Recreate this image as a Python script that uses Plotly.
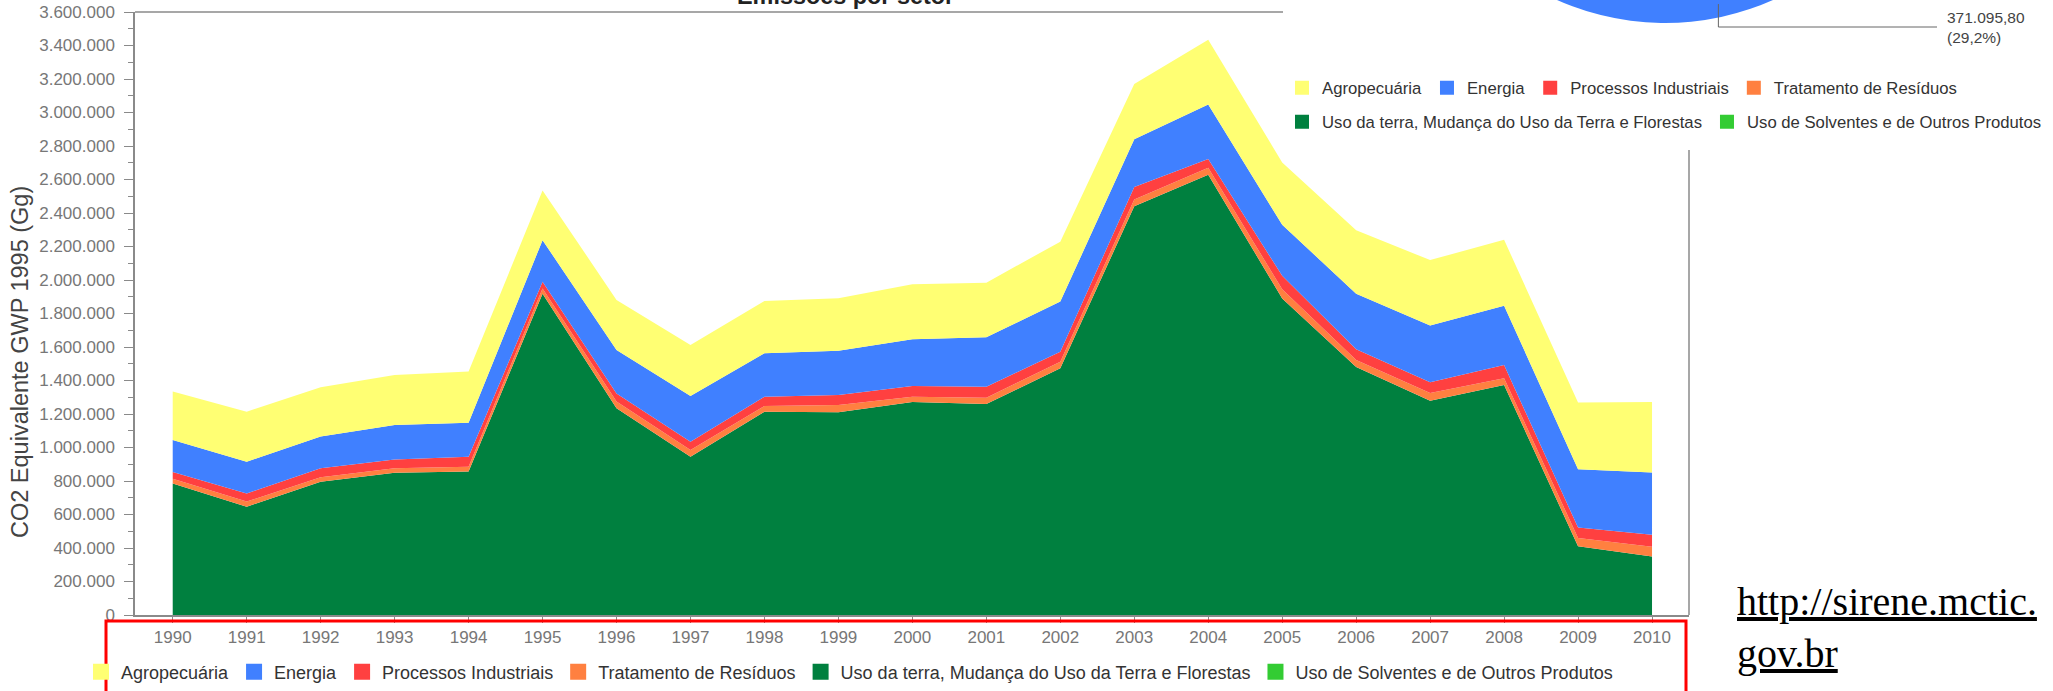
import math
import plotly.graph_objects as go

# Emissões por setor, Gg CO2 equivalente (GWP 1995)
years = list(range(1990, 2011))
uso_terra = [785000, 647000, 796000, 850000, 856000, 1918000, 1234000, 945000, 1214000, 1210000, 1271000,
             1260000, 1473000, 2440000, 2628000, 1890000, 1480000, 1279000, 1373000, 410000, 350000]
residuos = [28000, 30000, 26000, 26000, 29000, 32000, 40000, 40000, 34000, 44000, 32000,
            37000, 39000, 40000, 42000, 55000, 43000, 47000, 41000, 50000, 57000]
industriais = [40000, 49000, 54000, 53000, 60000, 40000, 49000, 50000, 55000, 59000, 64000,
               66000, 60000, 75000, 52000, 80000, 64000, 64000, 78000, 62000, 72000]
energia = [192000, 189000, 189000, 205000, 203000, 248000, 259000, 272000, 259000, 265000, 279000,
           295000, 299000, 285000, 326000, 305000, 331000, 339000, 355000, 348000, 371095.80]
agropecuaria = [290000, 299000, 294000, 299000, 305000, 297000, 299000, 305000, 313000, 313000, 328000,
                326000, 358000, 330000, 387000, 372000, 379000, 390000, 393000, 398000, 420800]
solventes = [0] * 21

y_ticks = list(range(0, 3600001, 200000))

# legend order as in the dashboard
sectors = [
    ("Agropecuária", agropecuaria, "#FFFF73"),
    ("Energia", energia, "#4080FF"),
    ("Processos Industriais", industriais, "#FF4040"),
    ("Tratamento de Resíduos", residuos, "#FF8040"),
    ("Uso da terra, Mudança do Uso da Terra e Florestas", uso_terra, "#00803F"),
    ("Uso de Solventes e de Outros Produtos", solventes, "#33CC33"),
]
stack_order = [4, 3, 2, 1, 0, 5]

# screenshot geometry: the dashboard continues above the visible window
W, VIEW_H = 2053, 691
HIDDEN = 507
H = VIEW_H + HIDDEN
ML, MB = 135, 76
PW, PH = W - ML, H - MB


def px(x):
    return (x - ML) / PW


def py(y):
    return (VIEW_H - MB - y) / PH


def br_number(v, fmt):
    return format(v, fmt).replace(",", "X").replace(".", ",").replace("X", ".")


SANS = "Liberation Sans, Arial, sans-serif"
fig = go.Figure()

for i in stack_order:
    name, vals, color = sectors[i]
    fig.add_trace(go.Scatter(
        x=years, y=vals, name=name, stackgroup="one", mode="lines",
        line=dict(width=0, color=color), fillcolor=color, showlegend=False,
    ))

# legend swatches (bottom legend + the pie's two-row legend)
for name, vals, color in sectors:
    fig.add_trace(go.Scatter(x=[None], y=[None], mode="markers", name=name, legend="legend",
                             marker=dict(symbol="square", size=16, color=color)))
for k, (name, vals, color) in enumerate(sectors):
    fig.add_trace(go.Scatter(x=[None], y=[None], mode="markers", name=name,
                             legend="legend2" if k < 4 else "legend3",
                             marker=dict(symbol="square", size=14, color=color)))

# pie of the last year (mostly above the visible window)
pie_vals = [vals[-1] for _, vals, _ in sectors]
pie_cols = [c for _, _, c in sectors]
R, PCX, PCY = 265, 1665, 23 - 265
ROT = -4
fig.add_trace(go.Pie(
    labels=[s[0] for s in sectors], values=pie_vals, sort=False, direction="clockwise",
    rotation=ROT, marker=dict(colors=pie_cols), textinfo="none", hoverinfo="skip",
    showlegend=False,
    domain=dict(x=[px(PCX - R), px(PCX + R)], y=[py(PCY + R), min(1.0, py(PCY - R))]),
))

total = sum(pie_vals)
mid = ROT + 360 * (pie_vals[0] + pie_vals[1] / 2) / total
ax_ = PCX + 0.95 * R * math.sin(math.radians(mid))
ay_ = PCY - 0.95 * R * math.cos(math.radians(mid))
label = br_number(energia[-1], ",.2f") + "<br>(" + br_number(100 * energia[-1] / total, ".1f") + "%)"

leg = dict(orientation="h", xanchor="left", yanchor="middle", traceorder="normal",
           bgcolor="rgba(0,0,0,0)")

fig.update_layout(
    width=W, height=H,
    margin=dict(l=ML, r=0, t=0, b=MB, autoexpand=False),
    paper_bgcolor="white", plot_bgcolor="white",
    separators=",.",
    font=dict(family=SANS, color="#444"),
    xaxis=dict(domain=[0, px(1689)], range=[1989.49, 2010.5], tickvals=years,
               ticktext=[str(y) for y in years], showgrid=False, zeroline=False,
               showline=True, linecolor="#8a8a8a", linewidth=1.5,
               ticks="outside", ticklen=6, tickcolor="#8a8a8a",
               tickfont=dict(size=17, color="#777")),
    yaxis=dict(domain=[0, py(12)], range=[0, 3600000], tickvals=y_ticks, tickformat=",d",
               showgrid=False, zeroline=False, showline=True, linecolor="#8a8a8a", linewidth=1.5,
               ticks="outside", ticklen=9, tickcolor="#8a8a8a", ticklabelstandoff=6,
               minor=dict(dtick=100000, ticks="outside", ticklen=5, tickcolor="#8a8a8a"),
               tickfont=dict(size=17, color="#777")),
    legend=dict(leg, x=px(81), y=py(672), font=dict(size=18, color="#333")),
    legend2=dict(leg, x=px(1282), y=py(88), font=dict(size=16.7, color="#333")),
    legend3=dict(leg, x=px(1282), y=py(122), font=dict(size=16.7, color="#333")),
    shapes=[
        dict(type="line", xref="paper", yref="paper", x0=px(ML), x1=px(1283), y0=py(12), y1=py(12),
             line=dict(color="#8a8a8a", width=1.5)),
        dict(type="line", xref="paper", yref="paper", x0=px(1689), x1=px(1689), y0=py(150), y1=py(615),
             line=dict(color="#8a8a8a", width=1.5)),
        dict(type="path", xref="paper", yref="paper",
             path=f"M{px(ax_)},{py(ay_)} L{px(ax_)},{py(27)} L{px(1937)},{py(27)}",
             line=dict(color="#666", width=1)),
        dict(type="rect", xref="paper", yref="paper", x0=px(106), x1=px(1686), y0=py(705), y1=py(621),
             line=dict(color="#FF0000", width=3)),
    ],
    annotations=[
        dict(text="Emissões por setor", xref="paper", yref="paper", x=px(845), y=py(11),
             xanchor="center", yanchor="bottom", showarrow=False,
             font=dict(size=23.4, color="#222", weight="bold")),
        dict(text="CO2 Equivalente GWP 1995 (Gg)", xref="paper", yref="paper", x=px(20), y=py(362),
             xanchor="center", yanchor="middle", textangle=-90, showarrow=False,
             font=dict(size=23.5, color="#444")),
        dict(text=label, xref="paper", yref="paper", x=px(1945), y=py(27), xanchor="left",
             yanchor="middle", align="left", showarrow=False, font=dict(size=15.5, color="#444")),
        dict(text="http://sirene.mctic.<br>gov.br", xref="paper", yref="paper", x=px(1735), y=py(628),
             xanchor="left", yanchor="middle", align="left", showarrow=False,
             font=dict(family="Liberation Serif, Times New Roman, serif", size=40, color="black",
                       lineposition="under")),
    ],
)

fig.write_html("out.html", post_script=f"document.body.style.margin='-{HIDDEN}px 0 0 0';"
                                       "document.documentElement.style.overflow='hidden';")
